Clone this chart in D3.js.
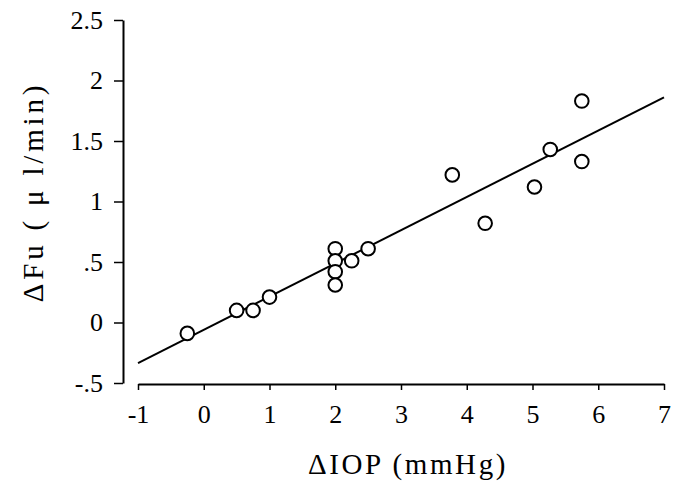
<!DOCTYPE html>
<html><head><meta charset="utf-8">
<script src="https://cdn.jsdelivr.net/npm/d3@7"></script>
<style>body{margin:0;background:#fff}svg{display:block}text{font-family:"Liberation Serif","DejaVu Serif",serif;fill:#000}</style>
</head><body><div id="chart"></div>
<script>
const xTicks = [-1,0,1,2,3,4,5,6,7];
const xTickLabels = ["-1","0","1","2","3","4","5","6","7"];
const yTicks = [-0.5,0,0.5,1,1.5,2,2.5];
const yTickLabels = ["-.5","0",".5","1","1.5","2","2.5"];
const dIOP = [-0.25,0.5,0.75,1.0,2.0,2.0,2.0,2.0,2.25,2.5,3.78,4.28,5.03,5.27,5.75,5.75];
const dFu  = [-0.09,0.10,0.10,0.21,0.61,0.51,0.42,0.31,0.51,0.61,1.22,0.82,1.12,1.43,1.83,1.33];
const fitX = [-1,7];
const fitY = [-0.335,1.86];
const xTitle = "ΔIOP (mmHg)";
const yTitle = "ΔFu ( μ l/min)";
const FONT = '"Liberation Serif","DejaVu Serif",serif';

const W=687,H=487;
const svg=d3.select("#chart").append("svg").attr("width",W).attr("height",H);
const x=d3.scaleLinear().domain([-1,7]).range([138,664]);
const y=d3.scaleLinear().domain([-0.5,2.5]).range([383,20]);

// y axis
const ya=svg.append("g").attr("transform","translate(123,0)")
  .call(d3.axisLeft(y).tickValues(yTicks).tickFormat((d,i)=>yTickLabels[i]).tickSize(9).tickPadding(11).tickSizeOuter(0));
ya.attr("font-family",FONT);
ya.select(".domain").attr("stroke","#000").attr("stroke-width",2);
ya.selectAll(".tick line").attr("stroke-width",1.5);
ya.selectAll("text").style("font-size","26px").style("font-family",FONT).attr("fill","#000");

// x axis
const xa=svg.append("g").attr("transform","translate(0,384)")
  .call(d3.axisBottom(x).tickValues(xTicks).tickFormat((d,i)=>xTickLabels[i]).tickSize(6).tickPadding(15).tickSizeOuter(0));
xa.attr("font-family",FONT);
xa.select(".domain").attr("stroke","#000").attr("stroke-width",2);
xa.selectAll(".tick line").attr("stroke-width",1.5);
xa.selectAll("text").style("font-size","26px").style("font-family",FONT).attr("fill","#000");

// fit line
svg.append("line").attr("x1",x(fitX[0])).attr("y1",y(fitY[0])).attr("x2",x(fitX[1])).attr("y2",y(fitY[1]))
  .attr("stroke","#000").attr("stroke-width",2);

// points
svg.append("g").selectAll("circle").data(dIOP.map((d,i)=>[d,dFu[i]])).join("circle")
  .attr("cx",d=>x(d[0])).attr("cy",d=>y(d[1])).attr("r",6.8)
  .attr("fill","#fff").attr("stroke","#000").attr("stroke-width",2);

// titles
svg.append("text").attr("x",408).attr("y",474).attr("text-anchor","middle")
  .style("font-family",FONT).style("font-size","29px").style("letter-spacing","2.6px").text(xTitle);
svg.append("text").attr("transform","translate(43,192) rotate(-90)").attr("text-anchor","middle")
  .style("font-family",FONT).style("font-size","29px").style("letter-spacing","3.8px").text(yTitle);
</script></body></html>
